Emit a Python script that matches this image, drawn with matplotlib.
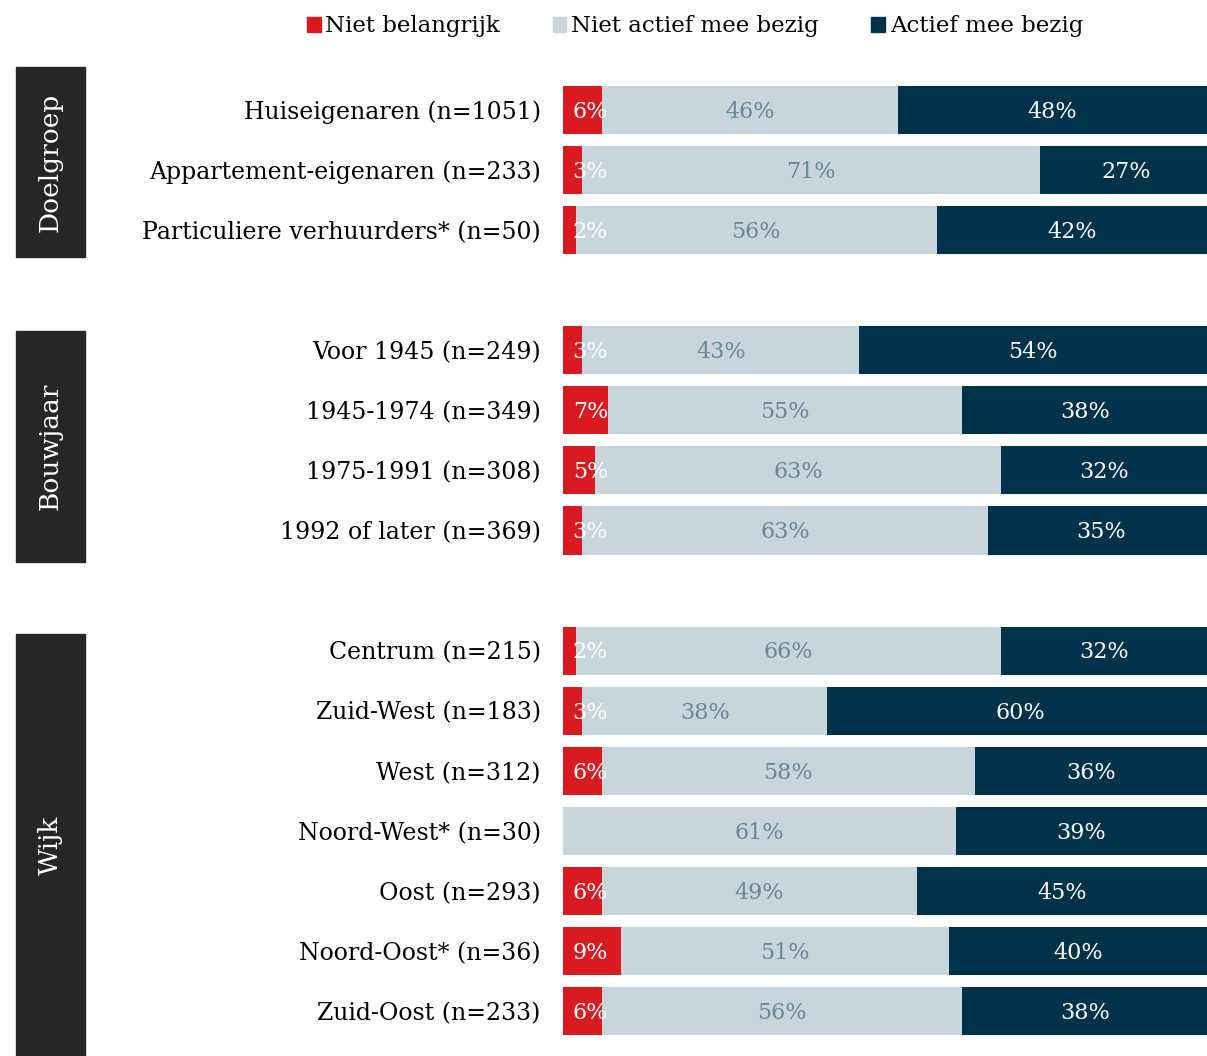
import numpy as np
import matplotlib
matplotlib.use("Agg")
import matplotlib.pyplot as plt
from matplotlib.patches import Patch, Rectangle
from matplotlib.transforms import blended_transform_factory

# survey groups and their rows
groups = ["Doelgroep", "Bouwjaar", "Wijk"]
labels = [
    ["Huiseigenaren (n=1051)", "Appartement-eigenaren (n=233)", "Particuliere verhuurders* (n=50)"],
    ["Voor 1945 (n=249)", "1945-1974 (n=349)", "1975-1991 (n=308)", "1992 of later (n=369)"],
    ["Centrum (n=215)", "Zuid-West (n=183)", "West (n=312)", "Noord-West* (n=30)",
     "Oost (n=293)", "Noord-Oost* (n=36)", "Zuid-Oost (n=233)"],
]

# percentages per answer, same row order as labels
niet_belangrijk = [6, 3, 2, 3, 7, 5, 3, 2, 3, 6, 0, 6, 9, 6]
niet_actief = [46, 71, 56, 43, 55, 63, 63, 66, 38, 58, 61, 49, 51, 56]
actief = [48, 27, 42, 54, 38, 32, 35, 32, 60, 36, 39, 45, 40, 38]

series_names = ["Niet belangrijk", "Niet actief mee bezig", "Actief mee bezig"]

RED = "#D91A21"
GREY = "#C8D5DB"
NAVY = "#00334B"
GREY_TXT = "#668A9A"
BOX = "#262626"

plt.rcParams["font.family"] = "DejaVu Serif"

# row positions, one blank row between groups
ypos = []
row = 0
for g in labels:
    for _ in g:
        ypos.append(row)
        row += 1
    row += 1
ypos = np.array(ypos)
flat_labels = [l for g in labels for l in g]

W, H = 1207, 1056
fig = plt.figure(figsize=(W / 100, H / 100), dpi=100)
ax = fig.add_axes([563 / W, 0, 644 / W, 1])

red = np.array(niet_belangrijk)
grey = np.array(niet_actief)
navy = np.array(actief)

h = 0.8
ax.barh(ypos, red, height=h, color=RED)
ax.barh(ypos, grey, left=red, height=h, color=GREY)
ax.barh(ypos, navy, left=red + grey, height=h, color=NAVY)

fs = 16
for y, r, g, n in zip(ypos, red, grey, navy):
    ty = y + 0.03
    if r > 0:
        ax.text(1.5, ty, f"{r}%", ha="left", va="center", color="white", fontsize=fs)
    ax.text(r + g / 2, ty, f"{g}%", ha="center", va="center", color=GREY_TXT, fontsize=fs)
    ax.text(r + g + n / 2, ty, f"{n}%", ha="center", va="center", color="white", fontsize=fs)

# row 0 centred at 110 px, pitch 60.07 px
pitch = 60.07
ax.set_ylim((H - 110) / pitch, -110 / pitch)
ax.set_xlim(0, 100)
ax.set_yticks(ypos)
ax.set_yticklabels(flat_labels, fontsize=fs + 1)
ax.tick_params(axis="y", length=0, pad=16)
ax.set_xticks([])
for s in ax.spines.values():
    s.set_visible(False)

# dark group boxes on the left
trans = blended_transform_factory(fig.transFigure, ax.transData)
box_spans = [(-0.72, 2.45), (3.68, 7.52), (8.72, 16.2)]
for name, (y0, y1) in zip(groups, box_spans):
    ax.add_patch(Rectangle((16 / W, y0), 69 / W, y1 - y0, transform=trans,
                           color=BOX, clip_on=False))
    yc = (y0 + min(y1, (H - 110) / pitch)) / 2
    ax.text(50.5 / W, yc, name, transform=trans, rotation=90, ha="center",
            va="center", color="white", fontsize=fs + 3)

handles = [Patch(color=c) for c in (RED, GREY, NAVY)]
fig.legend(handles, series_names, loc="upper center", bbox_to_anchor=(695 / W, 1.005),
           ncol=3, frameon=False, fontsize=fs + 0.5, handlelength=0.6, handleheight=0.6,
           handletextpad=0.2, columnspacing=2.3)

fig.savefig("out.png", dpi=100)
